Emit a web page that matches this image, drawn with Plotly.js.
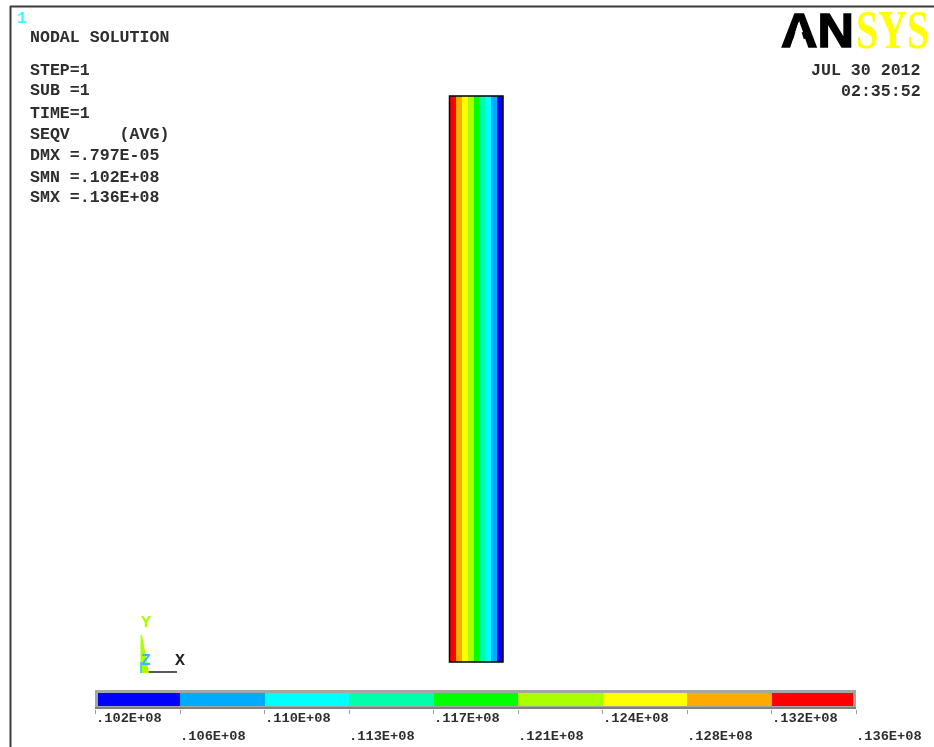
<!DOCTYPE html>
<html>
<head>
<meta charset="utf-8">
<script src="https://cdn.plot.ly/plotly-3.0.1.min.js"></script>
<style>
html,body{margin:0;padding:0;background:#fff;overflow:hidden}
#plot{width:934px;height:747px;filter:blur(0.55px)}
</style>
</head>
<body>
<div id="plot"></div>
<script>
// Contour band colours, lowest to highest stress
var bandColors = ['#0000ff','#00aaff','#00ffff','#00ffaa','#00ff00','#aaff00','#ffff00','#ffaa00','#ff0000'];
// Contour levels as ANSYS printed them
var levelLabels = ['.102E+08','.106E+08','.110E+08','.113E+08','.117E+08','.121E+08','.124E+08','.128E+08','.132E+08','.136E+08'];
var bandIndex = [0,1,2,3,4,5,6,7,8];
var levelIndex = [0,1,2,3,4,5,6,7,8,9];
// Order of the bands across the column, left to right
var columnBands = [8,7,6,5,4,3,2,1,0];
var headerLines = ['NODAL SOLUTION','STEP=1','SUB =1','TIME=1','SEQV     (AVG)','DMX =.797E-05','SMN =.102E+08','SMX =.136E+08'];
var headerY = [38,70,91,113,134,156,177,198];
var dateLines = ['JUL 30 2012','02:35:52'];
var dateY = [71,92];

var W = 934, H = 747;
function px(x){return x/W;}
function py(y){return 1-y/H;}
var scale = bandColors.map(function(c,i){return [[i/9,c],[(i+1)/9,c]];}).reduce(function(a,b){return a.concat(b);},[]);
var MONO = '"Liberation Mono", monospace';
var INK = '#2e2e2e';

var traces = [
  {type:'heatmap',x:columnBands.map(function(_,i){return i;}),y:[0,1],z:[columnBands,columnBands],
   xaxis:'x',yaxis:'y',zmin:-0.5,zmax:8.5,colorscale:scale,showscale:false,hoverinfo:'skip',zsmooth:false},
  {type:'heatmap',x:bandIndex.map(function(i){return i+0.5;}),y:[0],z:[bandIndex],
   xaxis:'x2',yaxis:'y2',zmin:-0.5,zmax:8.5,colorscale:scale,showscale:false,hoverinfo:'skip',zsmooth:false}
];

var annotations = [];
function note(text,x,y,opt){
  opt = opt||{};
  annotations.push({text:text,xref:opt.xref||'paper',yref:'paper',x:x,y:py(y),showarrow:false,
    xanchor:opt.anchor||'left',yanchor:'middle',borderpad:0,borderwidth:0,
    font:{family:opt.family||MONO,size:opt.size||16.6,color:opt.color||INK,weight:opt.weight||700}});
}
headerLines.forEach(function(t,i){note(t,px(30),headerY[i]);});
dateLines.forEach(function(t,i){note(t,px(920.5),dateY[i],{anchor:'right'});});
note('1',px(17),19,{color:'#33ffff',size:16.6});
levelLabels.forEach(function(t,i){
  note(t,i,i%2?736:718,{xref:'x2',size:13.7});
});
note('Y',px(141),622,{color:'#aaff00',size:16.6});
note('Z',px(141),660,{color:'#33bbff',size:16.6});
note('X',px(175),660,{color:'#222',size:16.6});
note('AN',px(781),30,{color:'#000',size:49,family:'"Liberation Sans", sans-serif'});
note('SYS',px(856),30,{color:'#ffff00',size:54,family:'"Liberation Serif", serif'});

function rect(x0,y0,x1,y1,line,width,fill){
  return {type:'rect',xref:'paper',yref:'paper',x0:px(x0),x1:px(x1),y0:py(y0),y1:py(y1),
    line:{color:line,width:width},fillcolor:fill||'rgba(0,0,0,0)',layer:'above'};
}
function seg(x0,y0,x1,y1,color,width){
  return {type:'line',xref:'paper',yref:'paper',x0:px(x0),x1:px(x1),y0:py(y0),y1:py(y1),
    line:{color:color,width:width},layer:'above'};
}
var shapes = [
  seg(10,6.5,934,6.5,'#3c3c3c',2),
  seg(10.5,6,10.5,747,'#3c3c3c',2),
  rect(449.5,96,503,662,'#000',1.5),
  rect(96.5,691.5,854.5,707.5,'#a6a6a6',3),
  seg(95,708,856,708,'#808080',2),
  seg(148,672,177,672,'#000',1.3),
  {type:'path',xref:'paper',yref:'paper',layer:'above',line:{width:0},fillcolor:'#aaff00',
   path:'M '+px(140.5)+' '+py(635)+' L '+px(142)+' '+py(635)+' L '+px(149)+' '+py(673)+' L '+px(140.5)+' '+py(673)+' Z'},
  seg(141,662,141,673,'#33ccff',1.6),
  // Open the logo's A into the crossbar-free chevron of the ANSYS mark
  {type:'path',xref:'paper',yref:'paper',layer:'above',line:{width:0},fillcolor:'#fff',
   path:'M '+px(798.5)+' '+py(22)+' L '+px(790)+' '+py(50)+' L '+px(807)+' '+py(50)+' Z'}
];

var layout = {
  width:W,height:H,margin:{l:0,r:0,t:0,b:0},paper_bgcolor:'#fff',plot_bgcolor:'#fff',showlegend:false,
  xaxis:{domain:[px(450),px(503)],range:[-0.5,8.5],visible:false,fixedrange:true},
  yaxis:{domain:[py(662),py(96)],range:[-0.5,1.5],visible:false,fixedrange:true},
  xaxis2:{domain:[px(95.5),px(856)],range:[0,9],anchor:'y2',tickmode:'array',tickvals:levelIndex,
    showticklabels:false,ticks:'outside',ticklen:4,tickcolor:'#9a9a9a',tickwidth:1,showgrid:false,zeroline:false,showline:false,fixedrange:true},
  yaxis2:{domain:[py(709),py(690)],range:[-0.5,0.5],anchor:'x2',visible:false,fixedrange:true},
  annotations:annotations,shapes:shapes
};

Plotly.newPlot('plot',traces,layout,{displayModeBar:false,staticPlot:true}).then(function(gd){
  // Squeeze the logo letters to the tall, narrow proportions of the ANSYS mark
  gd.querySelectorAll('.annotation').forEach(function(a){
    var t = a.querySelector('text');
    if(!t) return;
    var s = t.textContent;
    if(s==='AN'||s==='SYS'){
      var b = t.getBBox();
      var sx = s==='AN' ? 1.03 : 0.74;
      var x0 = b.x, yc = b.y+b.height/2;
      t.setAttribute('transform','translate('+x0+' '+yc+') scale('+sx+' 1) translate('+(-x0)+' '+(-yc)+')');
      if(s==='AN'){t.style.stroke='#000';t.style.strokeWidth='1.5px';}
    }
  });
  // Annotations sit above the shape layer, so lift the logo wedge over them
  var wedges = gd.querySelectorAll('.layer-above .shapelayer path');
  var wedge = wedges[wedges.length-1];
  var info = gd.querySelector('.infolayer');
  if(wedge && info){ info.appendChild(wedge); }
});
</script>
</body>
</html>
